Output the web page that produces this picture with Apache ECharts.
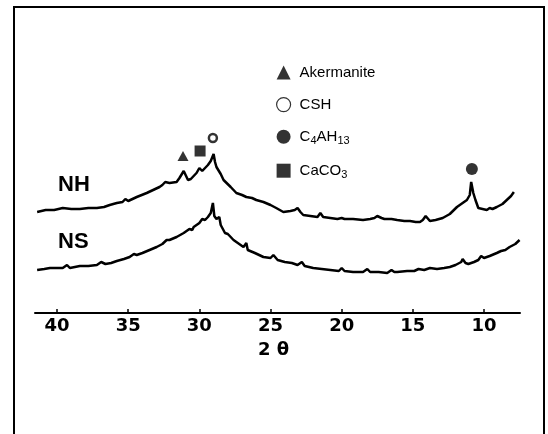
<!DOCTYPE html>
<html>
<head>
<meta charset="utf-8">
<script src="https://cdn.jsdelivr.net/npm/echarts@6/dist/echarts.min.js"></script>
<style>
  html, body { margin: 0; padding: 0; background: #fff; }
  #chart { width: 548px; height: 434px; }
</style>
</head>
<body>
<div id="chart"></div>
<script>
// 2θ tick labels
var tickValues = [10, 15, 20, 25, 30, 35, 40];

// NH pattern: [2θ, intensity]
var nhData = [
  [41.4, 101], [40.8, 103], [40.2, 103], [39.6, 105], [39.0, 104], [38.4, 104],
  [37.8, 105], [37.2, 105], [36.7, 106], [36.3, 108], [35.8, 110], [35.4, 111],
  [35.2, 114], [35.0, 112], [34.9, 114], [34.4, 116], [33.7, 120], [33.1, 124],
  [32.8, 126], [32.6, 128], [32.4, 131], [32.1, 130], [31.6, 131], [31.4, 135],
  [31.1, 142], [30.9, 136], [30.8, 133], [30.6, 134], [30.4, 137], [30.2, 140],
  [30.0, 145], [29.8, 142], [29.7, 141], [29.4, 148], [29.2, 152], [29.0, 159],
  [28.9, 151], [28.8, 146], [28.5, 139], [28.3, 133], [27.8, 126], [27.4, 120],
  [27.0, 118], [26.7, 116], [26.3, 115], [26.0, 113], [25.5, 111], [25.0, 108],
  [24.6, 105], [24.1, 101], [23.6, 102], [23.3, 103], [23.1, 105], [22.9, 101],
  [22.7, 98], [22.2, 97], [21.7, 96], [21.5, 100], [21.3, 96], [20.8, 95],
  [20.3, 94], [20.0, 95], [19.8, 94], [19.2, 94], [18.5, 93], [18.0, 94],
  [17.7, 95], [17.5, 97], [17.2, 95], [17.0, 94], [16.5, 94], [16.1, 93],
  [15.6, 92], [15.2, 92], [14.8, 91], [14.5, 91], [14.3, 93], [14.1, 97],
  [13.8, 92], [13.4, 93], [12.9, 95], [12.4, 99], [11.9, 106], [11.5, 110],
  [11.2, 113], [11.0, 118], [10.9, 131], [10.75, 120], [10.6, 113], [10.4, 105],
  [10.1, 104], [9.8, 103], [9.6, 105], [9.4, 104], [9.1, 106], [8.7, 109],
  [8.4, 113], [8.1, 117], [7.9, 121]
];

// NS pattern: [2θ, intensity]
var nsData = [
  [41.4, 43], [40.9, 44], [40.5, 45], [40.0, 45], [39.6, 45], [39.3, 48],
  [39.1, 45], [38.4, 47], [37.8, 47], [37.2, 48], [36.9, 51], [36.6, 49],
  [36.2, 50], [35.8, 52], [35.3, 54], [34.9, 56], [34.6, 59], [34.4, 58],
  [34.0, 60], [33.5, 63], [33.0, 66], [32.6, 69], [32.3, 73], [32.1, 73],
  [31.6, 76], [31.1, 80], [30.7, 84], [30.5, 83], [30.4, 86], [30.2, 88],
  [30.0, 90], [29.8, 94], [29.6, 93], [29.4, 96], [29.2, 100], [29.05, 110],
  [28.95, 97], [28.8, 94], [28.6, 96], [28.5, 88], [28.2, 80], [28.0, 79],
  [27.6, 73], [27.3, 70], [26.9, 66], [26.7, 70], [26.6, 63], [26.1, 60],
  [25.5, 56], [25.0, 55], [24.8, 58], [24.5, 53], [24.0, 51], [23.5, 50],
  [23.1, 48], [22.8, 51], [22.6, 47], [22.0, 45], [21.4, 44], [20.8, 43],
  [20.2, 42], [20.0, 45], [19.8, 42], [19.2, 41], [18.5, 41], [18.2, 44],
  [18.0, 41], [17.4, 41], [16.8, 40], [16.5, 43], [16.3, 41], [16.1, 41],
  [15.4, 42], [14.9, 42], [14.6, 44], [14.2, 43], [13.8, 45], [13.3, 44],
  [12.8, 45], [12.4, 46], [12.0, 48], [11.6, 51], [11.5, 54], [11.3, 50],
  [11.1, 49], [10.7, 51], [10.4, 53], [10.2, 57], [10.0, 55], [9.6, 57],
  [9.1, 60], [8.8, 62], [8.5, 63], [8.2, 66], [7.8, 69], [7.5, 73]
];

// phase markers placed above their peaks: [2θ, height]
var akermaniteMarks = [[31.15, 157]];
var cshMarks = [[29.05, 175]];
var c4ah13Marks = [[10.85, 144]];
var caco3Marks = [[29.95, 162]];

var chart = echarts.init(document.getElementById("chart"));

chart.setOption({
  animation: false,
  backgroundColor: "#fff",
  grid: {
    left: 35,
    right: 28,
    top: 13,
    bottom: 121
  },
  legend: {
    orient: "vertical",
    left: 276,
    top: 65,
    padding: 0,
    itemWidth: 14,
    itemHeight: 14,
    itemGap: 17,
    selectedMode: false,
    data: [
      { name: "Akermanite", icon: "triangle" },
      { name: "CSH", icon: "circle", itemStyle: { borderWidth: 1.2 } },
      { name: "C4AH13", icon: "circle" },
      { name: "CaCO3", icon: "rect" }
    ],
    formatter: function (name) {
      if (name === "C4AH13") return "{n|C}{s|4}{n|AH}{s|13}";
      if (name === "CaCO3") return "{n|CaCO}{s|3}";
      return "{n|" + name + "}";
    },
    textStyle: {
      padding: [0, 0, 0, 4],
      rich: {
        n: { fontFamily: "Liberation Sans", fontSize: 15, color: "#000", verticalAlign: "middle" },
        s: { fontFamily: "Liberation Sans", fontSize: 11, color: "#000", padding: [8, 0, 0, 0] }
      }
    }
  },
  xAxis: {
    type: "value",
    inverse: true,
    min: 7.47,
    max: 41.55,
    splitLine: { show: false },
    axisLine: { lineStyle: { color: "#000", width: 2 } },
    axisTick: {
      inside: true,
      length: 4,
      customValues: tickValues,
      lineStyle: { color: "#000", width: 1.5 }
    },
    axisLabel: {
      customValues: tickValues,
      margin: 4,
      color: "#000",
      fontFamily: "DejaVu Sans",
      fontWeight: "bold",
      fontSize: 18
    },
    name: "2 θ",
    nameLocation: "middle",
    nameGap: 28,
    nameTextStyle: {
      color: "#000",
      fontFamily: "DejaVu Sans",
      fontWeight: "bold",
      fontSize: 18,
      verticalAlign: "top",
      padding: [0, 8, 0, 0]
    }
  },
  yAxis: {
    type: "value",
    show: false,
    min: 0,
    max: 300
  },
  graphic: [
    {
      type: "rect",
      shape: { x: 14, y: 7, width: 530, height: 440 },
      style: { fill: null, stroke: "#000", lineWidth: 2 },
      silent: true
    },
    {
      type: "text",
      left: 58,
      top: 174,
      style: { text: "NH", fill: "#000", font: "bold 22px 'Liberation Sans'" }
    },
    {
      type: "text",
      left: 58,
      top: 231,
      style: { text: "NS", fill: "#000", font: "bold 22px 'Liberation Sans'" }
    }
  ],
  series: [
    {
      name: "NH",
      type: "line",
      data: nhData,
      symbol: "none",
      lineStyle: { color: "#000", width: 2.5 },
      z: 3
    },
    {
      name: "NS",
      type: "line",
      data: nsData,
      symbol: "none",
      lineStyle: { color: "#000", width: 2.5 },
      z: 3
    },
    {
      name: "Akermanite",
      type: "scatter",
      data: akermaniteMarks,
      symbol: "triangle",
      symbolSize: [11, 10],
      itemStyle: { color: "#000" }
    },
    {
      name: "CSH",
      type: "scatter",
      data: cshMarks,
      symbol: "circle",
      symbolSize: 8,
      itemStyle: { color: "#fff", borderColor: "#000", borderWidth: 2.5 }
    },
    {
      name: "C4AH13",
      type: "scatter",
      data: c4ah13Marks,
      symbol: "circle",
      symbolSize: 12,
      itemStyle: { color: "#000" }
    },
    {
      name: "CaCO3",
      type: "scatter",
      data: caco3Marks,
      symbol: "rect",
      symbolSize: 11,
      itemStyle: { color: "#000" }
    }
  ]
});
</script>
</body>
</html>
